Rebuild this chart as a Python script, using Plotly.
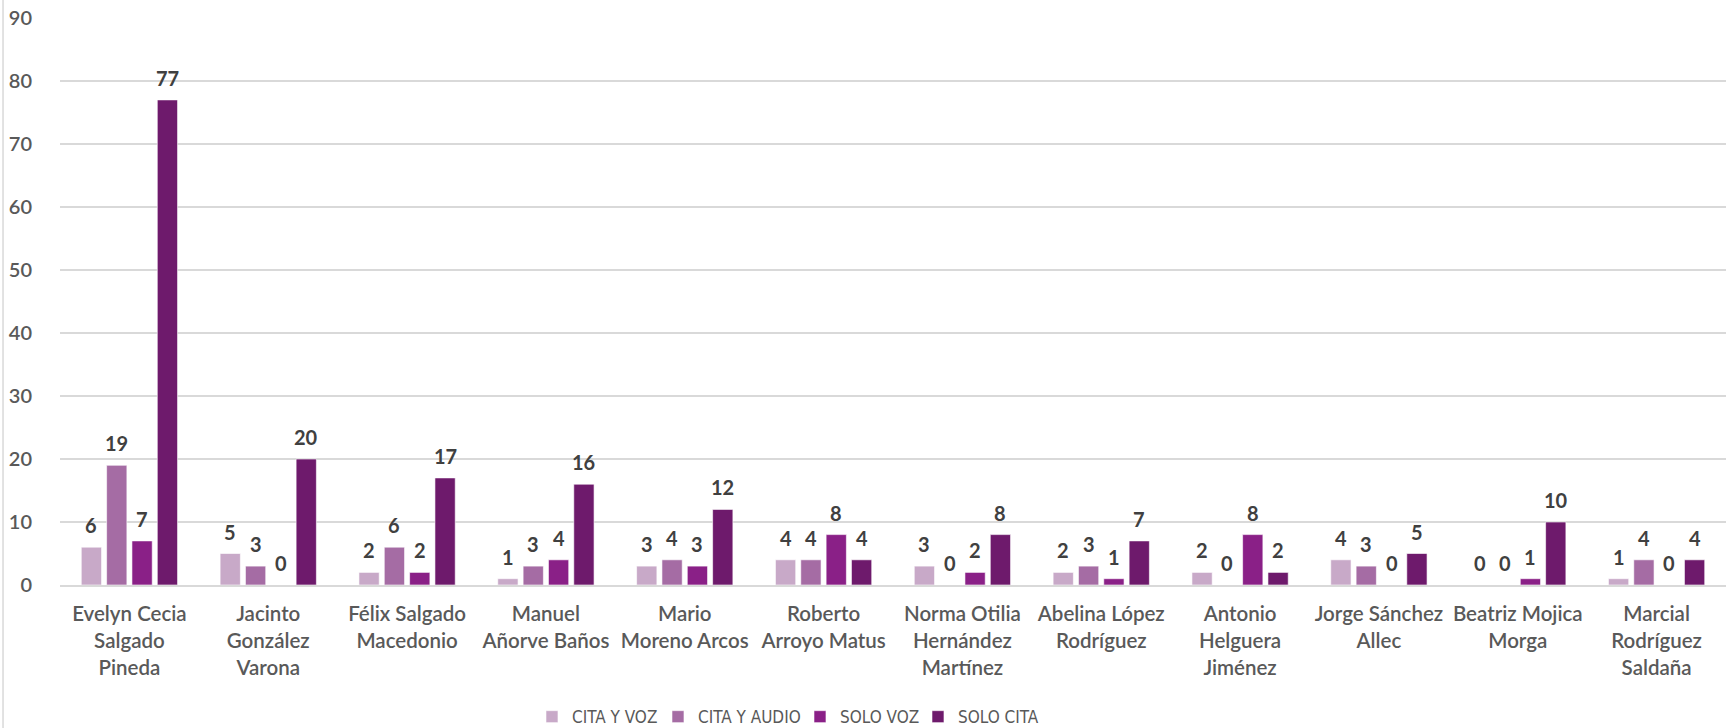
import plotly.graph_objects as go

# Candidates and counts per mention type
candidates = [
    "Evelyn Cecia<br>Salgado<br>Pineda",
    "Jacinto<br>González<br>Varona",
    "Félix Salgado<br>Macedonio",
    "Manuel<br>Añorve Baños",
    "Mario<br>Moreno Arcos",
    "Roberto<br>Arroyo Matus",
    "Norma Otilia<br>Hernández<br>Martínez",
    "Abelina López<br>Rodríguez",
    "Antonio<br>Helguera<br>Jiménez",
    "Jorge Sánchez<br>Allec",
    "Beatriz Mojica<br>Morga",
    "Marcial<br>Rodríguez<br>Saldaña",
]

cita_y_voz = [6, 5, 2, 1, 3, 4, 3, 2, 2, 4, 0, 1]
cita_y_audio = [19, 3, 6, 3, 4, 4, 0, 3, 0, 3, 0, 4]
solo_voz = [7, 0, 2, 4, 3, 8, 2, 1, 8, 0, 1, 0]
solo_cita = [77, 20, 17, 16, 12, 4, 8, 7, 2, 5, 10, 4]

# name, values, colour, legend entry width (px)
series = [
    ("CITA Y VOZ", cita_y_voz, "#C8A9C8", 81),
    ("CITA Y AUDIO", cita_y_audio, "#A56CA4", 97),
    ("SOLO VOZ", solo_voz, "#8A2087", 73),
    ("SOLO CITA", solo_cita, "#6E1A6C", 80),
]

y_ticks = [0, 10, 20, 30, 40, 50, 60, 70, 80, 90]

FONT = "Lato, 'Open Sans', sans-serif"
LEGEND_FONT = "'Liberation Sans Narrow', 'DejaVu Sans Condensed', 'Roboto Condensed', 'Arial Narrow', sans-serif"
GRAY = "#595959"

BARGAP = 0.27
BARGROUPGAP = 0.2
slot = (1 - BARGAP) / len(series)  # width of one bar slot inside a group, in category units

fig = go.Figure()
annotations = []
for i, (name, vals, color, lw) in enumerate(series):
    fig.add_trace(go.Bar(
        name=name,
        x=candidates,
        y=vals,
        legendwidth=lw,
        marker=dict(color=color, line=dict(color="rgba(255,255,255,0.6)", width=1)),
    ))
    offset = (i - (len(series) - 1) / 2) * slot
    for j, v in enumerate(vals):
        annotations.append(dict(
            x=j + offset, y=v, xref="x", yref="y",
            text=str(v), showarrow=False,
            yanchor="bottom", xanchor="center", yshift=8,
            font=dict(family=FONT, size=20, color="#404040", weight="bold"),
        ))

fig.update_layout(
    width=1729,
    height=728,
    barmode="group",
    bargap=BARGAP,
    bargroupgap=BARGROUPGAP,
    plot_bgcolor="white",
    paper_bgcolor="white",
    margin=dict(l=60, r=3, t=18, b=143, autoexpand=False),
    font=dict(family=FONT, color=GRAY, size=20),
    legend=dict(
        orientation="h",
        x=0.2833, xanchor="left",
        y=-0.233, yanchor="middle",
        font=dict(family=LEGEND_FONT, size=17, color=GRAY),
        itemwidth=30,
        traceorder="normal",
    ),
    annotations=annotations,
    shapes=[dict(
        type="line", xref="paper", yref="paper",
        x0=-0.0342, x1=-0.0342, y0=-0.26, y1=1.04,
        line=dict(color="#D9D9D9", width=1.5),
    )],
)

fig.update_xaxes(
    showgrid=False,
    showline=True,
    linecolor="#D9D9D9",
    linewidth=1.5,
    ticks="",
    ticklabelstandoff=10,
    tickfont=dict(family=FONT, size=20.5, color=GRAY, weight=600),
)

fig.update_yaxes(
    range=[0, 90],
    tickvals=y_ticks,
    showgrid=True,
    gridcolor="#D9D9D9",
    gridwidth=1.5,
    zeroline=False,
    showline=False,
    ticks="",
    ticklabelstandoff=27,
    tickfont=dict(family=FONT, size=20, color=GRAY, weight=600),
)

fig.write_html("out.html")
